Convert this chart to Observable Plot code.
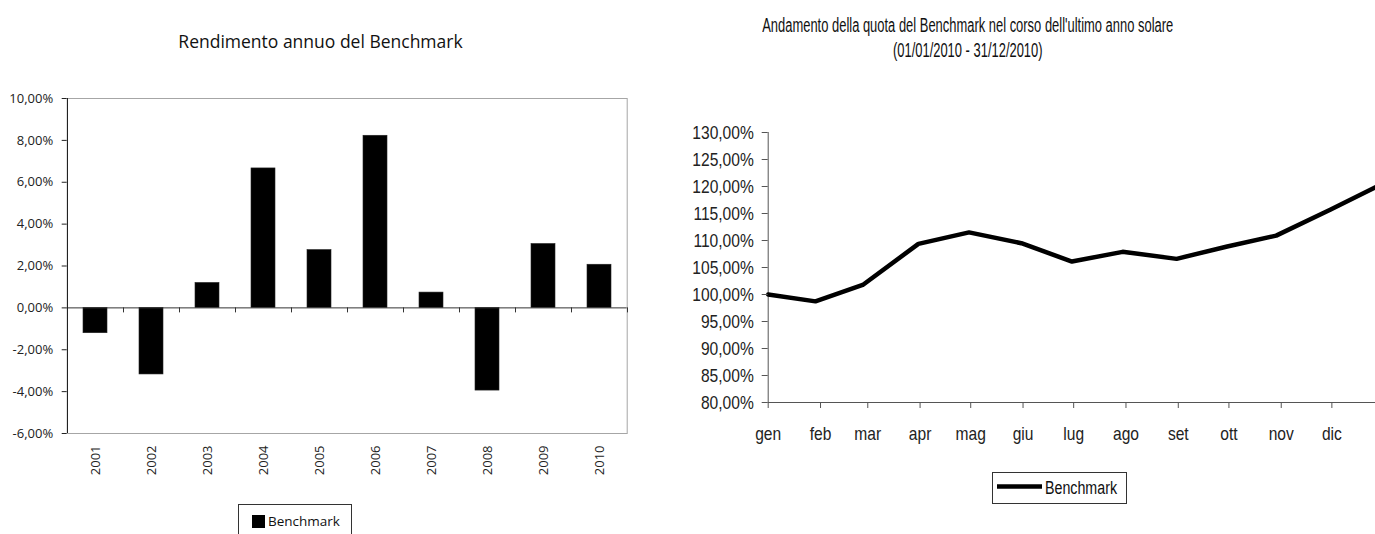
<!DOCTYPE html>
<html><head><meta charset="utf-8">
<script src="https://cdn.jsdelivr.net/npm/d3@7"></script>
<script src="https://cdn.jsdelivr.net/npm/@observablehq/plot@0.6"></script>
<style>
html,body{margin:0;padding:0;background:#fff;overflow:hidden;}
#root{position:relative;width:1375px;height:534px;overflow:hidden;background:#fff;}
.abs{position:absolute;}
#leftTitle{left:0;width:641px;top:29px;text-align:center;font-family:"Open Sans";font-size:17.5px;line-height:24px;color:#111;}
#rightTitle{left:640px;top:13px;width:655px;text-align:center;font-family:"Liberation Sans",Arial,sans-serif;font-size:19.5px;line-height:25px;color:#111;white-space:nowrap;}
#rightTitle span{display:inline-block;transform-origin:50% 50%;}
#leftPlot{left:0;top:88px;width:640px;}
#rightPlot{left:640px;top:122px;width:742px;}
#leftLegend{left:238px;top:504px;width:114px;height:40px;border:1px solid #333;box-sizing:border-box;font-family:"Open Sans";font-size:13.5px;color:#111;}
#leftLegend .sw{position:absolute;left:13px;top:10px;width:13px;height:13px;background:#000;}
#leftLegend .tx{position:absolute;left:29px;top:6px;line-height:20px;}
#rightLegend{left:992px;top:472px;width:135px;height:32px;overflow:visible;}
svg{max-width:none !important;}
</style></head><body><div id="root">
<div id="leftTitle" class="abs"></div>
<div id="rightTitle" class="abs"><span id="rt1"></span><br><span id="rt2"></span></div>
<div id="leftPlot" class="abs"></div>
<div id="rightPlot" class="abs"></div>
<div id="leftLegend" class="abs"><div class="sw"></div><div class="tx"></div></div>
<svg id="rightLegend" class="abs" width="135" height="32"></svg>
</div>
<script>
// ---- data ----
const leftTitleText = "Rendimento annuo del Benchmark";
const rightTitleLines = ["Andamento della quota del Benchmark nel corso dell'ultimo anno solare", "(01/01/2010 - 31/12/2010)"];
const seriesName = "Benchmark";
const years = ["2001","2002","2003","2004","2005","2006","2007","2008","2009","2010"];
const annualReturns = [-1.21, -3.18, 1.19, 6.66, 2.76, 8.22, 0.73, -3.95, 3.05, 2.06];
const leftTicks = [-6, -4, -2, 0, 2, 4, 6, 8, 10];
const navDates = ["2010-01-01","2010-01-29","2010-02-26","2010-03-31","2010-04-30","2010-05-31","2010-06-30","2010-07-30","2010-08-31","2010-09-30","2010-10-29","2010-11-30","2010-12-31"];
const navValues = [100.0, 98.73, 101.77, 109.37, 111.5, 109.5, 106.1, 107.9, 106.6, 108.9, 110.9, 115.7, 120.5];
const rightTicks = [80, 85, 90, 95, 100, 105, 110, 115, 120, 125, 130];
const monthLabels = ["gen","feb","mar","apr","mag","giu","lug","ago","set","ott","nov","dic"];
const monthTickDates = ["2010-01-01","2010-02-01","2010-03-01","2010-04-01","2010-05-01","2010-06-01","2010-07-01","2010-08-01","2010-09-01","2010-10-01","2010-11-01","2010-12-01"];

const NARROW = "'Liberation Sans', Arial, sans-serif";
const SQUEEZE = 0.82;
function squeeze(t, k) {
  const w = t.getComputedTextLength();
  if (w > 0) { t.setAttribute("textLength", (w * k).toFixed(2)); t.setAttribute("lengthAdjust", "spacingAndGlyphs"); }
}

// ---- text ----
document.getElementById("leftTitle").textContent = leftTitleText;
document.querySelector("#leftLegend .tx").textContent = seriesName;

const rt1 = document.getElementById("rt1"), rt2 = document.getElementById("rt2");
rt1.textContent = rightTitleLines[0];
rt2.textContent = rightTitleLines[1];
const kTitle = 411 / rt1.getBoundingClientRect().width;
rt1.style.transform = `scaleX(${kTitle})`;
rt2.style.transform = `scaleX(${kTitle})`;

const rl = d3.select("#rightLegend");
rl.append("rect").attr("x", 0.5).attr("y", 0.5).attr("width", 134).attr("height", 31).attr("fill", "none").attr("stroke", "#333");
rl.append("line").attr("x1", 5).attr("x2", 50).attr("y1", 14.5).attr("y2", 14.5).attr("stroke", "#000").attr("stroke-width", 4.5);
const lt = rl.append("text").attr("x", 53).attr("y", 21.5).style("font-family", NARROW).style("font-size", "18px").attr("fill", "#111").text(seriesName);
lt.attr("textLength", 72).attr("lengthAdjust", "spacingAndGlyphs");

const fmt = d => d.toFixed(2).replace(".", ",") + "%";

// ---- left: bar chart ----
const barData = years.map((y, i) => ({year: y, value: annualReturns[i]}));
const left = Plot.plot({
  width: 640, height: 397,
  marginLeft: 66.7, marginRight: 13.3, marginTop: 10, marginBottom: 52,
  style: {fontFamily: "Open Sans", fontSize: "13px", color: "#222", background: "transparent", overflow: "visible"},
  x: {domain: years, paddingInner: 0.57, paddingOuter: 0.285},
  y: {domain: [-6, 10]},
  marks: [
    Plot.frame({stroke: "#a6a6a6"}),
    Plot.barY(barData, {x: "year", y: "value", fill: "#000", stroke: "#222", strokeWidth: 0.6}),
    Plot.ruleY([0], {stroke: "#333"}),
    Plot.ruleX(years, {x: d => d, y1: 0, y2: 0, dx: 28, insetBottom: -5, stroke: "#333"}),
    Plot.ruleX([years[0]], {x: d => d, y1: -6, y2: 10, dx: -28, stroke: "#222"}),
    Plot.axisY({ticks: leftTicks, tickFormat: fmt, tickSize: 5, tickPadding: 9, label: null, stroke: "#222"}),
    Plot.axisX({tickRotate: -90, tickSize: 0, tickPadding: 12, label: null})
  ]
});
document.getElementById("leftPlot").appendChild(left);

// ---- right: line chart ----
const navData = navDates.map((d, i) => ({date: new Date(d + "T00:00:00Z"), value: navValues[i]}));
const monthTicks = monthTickDates.map(d => new Date(d + "T00:00:00Z"));
const right = Plot.plot({
  width: 742, height: 330,
  marginLeft: 127.7, marginRight: 0, marginTop: 10, marginBottom: 50,
  style: {fontFamily: NARROW, fontSize: "19px", color: "#222", background: "transparent", overflow: "visible"},
  x: {type: "utc", domain: [new Date("2010-01-01T00:00:00Z"), new Date("2010-12-31T00:00:00Z")]},
  y: {domain: [80, 130]},
  marks: [
    Plot.ruleY([80], {stroke: "#555"}),
    Plot.ruleX([monthTicks[0]], {x: d => d, y1: 80, y2: 130, stroke: "#555"}),
    Plot.line(navData, {x: "date", y: "value", stroke: "#000", strokeWidth: 4.5}),
    Plot.axisY({ticks: rightTicks, tickFormat: fmt, tickSize: 6, tickPadding: 8.4, label: null, stroke: "#555"}),
    Plot.axisX({ticks: monthTicks, tickFormat: d => monthLabels[d.getUTCMonth()], tickSize: 6, tickPadding: 18, label: null, stroke: "#555"})
  ]
});
document.getElementById("rightPlot").appendChild(right);
right.querySelectorAll("text").forEach(t => squeeze(t, SQUEEZE));
</script>
</body></html>
